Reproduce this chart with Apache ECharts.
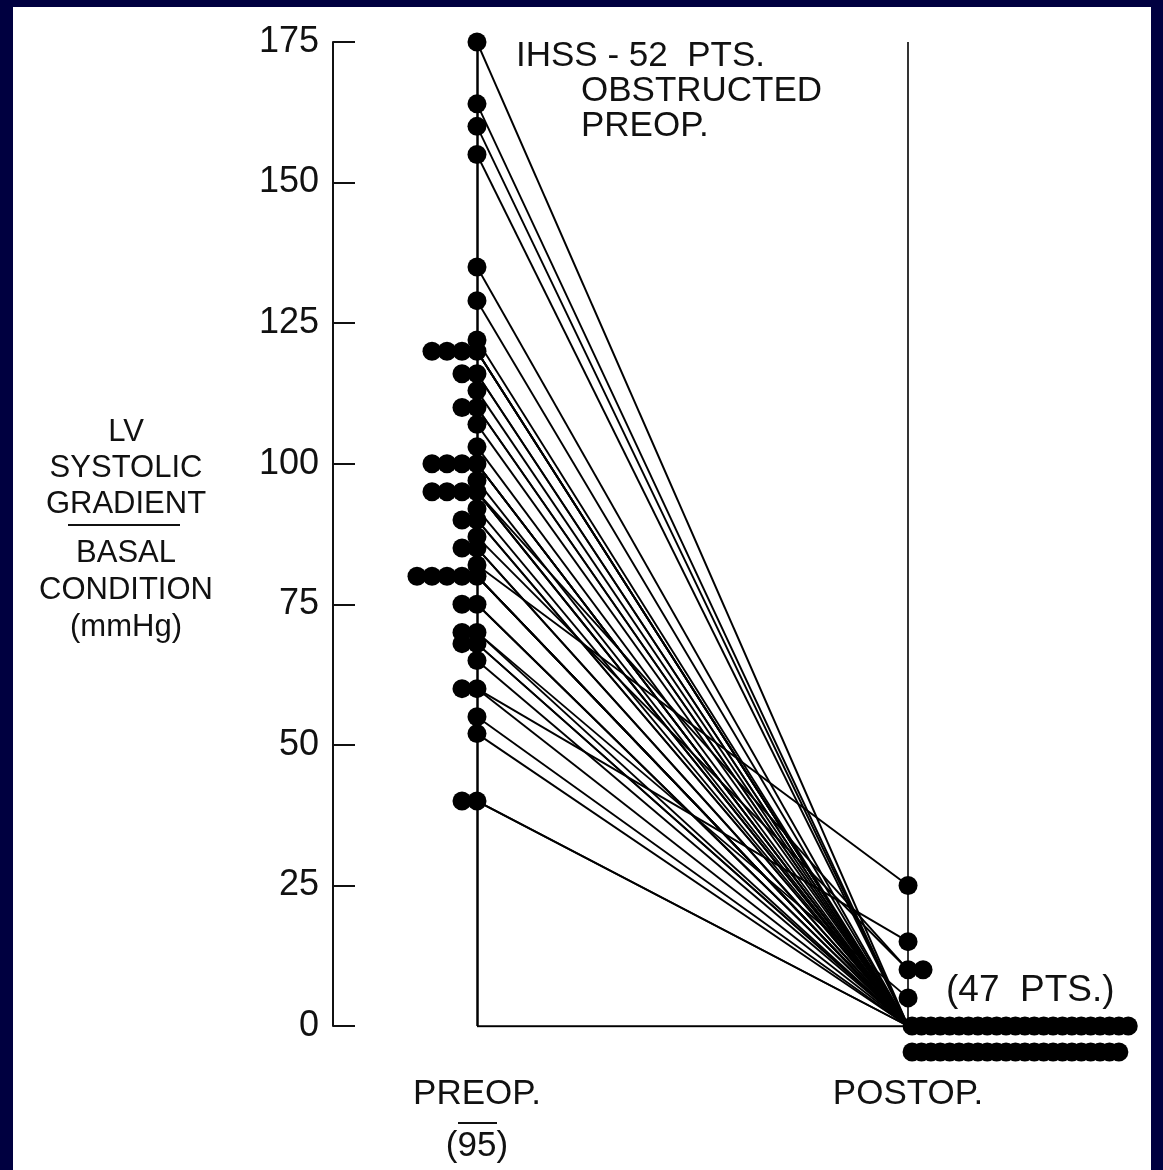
<!DOCTYPE html>
<html>
<head>
<meta charset="utf-8">
<script src="https://cdn.jsdelivr.net/npm/echarts@6/dist/echarts.min.js"></script>
<style>
  html, body { margin: 0; padding: 0; background: #000040; width: 1163px; height: 1170px; overflow: hidden; }
  #paper { position: absolute; left: 13px; top: 7px; width: 1138px; height: 1163px; background: #ffffff; }
  #chart { position: absolute; left: 0; top: 0; width: 1163px; height: 1170px; }
</style>
</head>
<body>
<div id="paper"></div>
<div id="chart"></div>
<script>
// ---- data ----
const groups = ['PREOP.', 'POSTOP.'];
const preopMean = '95';
const yTicks = [0, 25, 50, 75, 100, 125, 150, 175];
// preoperative LV systolic gradient (mmHg), one value per patient
const preop = [175, 164, 160, 155, 135, 129, 122, 120, 120, 120, 120, 116, 116, 113, 110, 110,
               107, 103, 100, 100, 100, 100, 97, 95, 95, 95, 95, 92, 90, 90, 87, 85, 85, 82,
               80, 80, 80, 80, 80, 75, 75, 70, 70, 68, 68, 65, 60, 60, 55, 52, 40, 40];
// postoperative gradient for the same patients (same order)
const postop = [0, 0, 0, 0, 0, 0, 0, 0, 0, 0, 0, 0, 0, 0, 0, 0,
                0, 0, 0, 0, 0, 0, 0, 10, 0, 0, 0, 0, 0, 0, 10, 0, 0, 25,
                0, 0, 0, 0, 0, 0, 0, 5, 0, 0, 0, 0, 15, 0, 0, 0, 0, 0];

// ---- styling constants ----
const PRE_X = 0, POST_X = 1;
const DOT = 19;           // symbol size (px)
const STACK_STEP = 15;    // px between tied dots
const ZERO_STEP = 9.4;    // px between dots of the postop zero cluster
const ZERO_ROW = 26;      // px between the two rows of the zero cluster
const ZERO_PER_ROW = 24;
const FONT = '"Liberation Sans", Arial, sans-serif';
const INK = '#111111';

// dots, tied values are drawn side by side (offset is only a display style)
function stackDots(xVal, values, dir) {
  const seen = {};
  const out = [];
  values.forEach(v => {
    const k = seen[v] || 0;
    seen[v] = k + 1;
    out.push({ value: [xVal, v], symbolOffset: [dir * k * STACK_STEP, 0] });
  });
  return out;
}
const preDots = stackDots(PRE_X, preop, -1);
const postNonZero = postop.filter(v => v !== 0);
const postZero = postop.filter(v => v === 0);
const postDots = stackDots(POST_X, postNonZero, 1);
postZero.forEach((v, i) => {
  const row = i < ZERO_PER_ROW ? 0 : 1;
  const col = row === 0 ? i : i - ZERO_PER_ROW;
  postDots.push({ value: [POST_X, v], symbolOffset: [4 + col * ZERO_STEP, row * ZERO_ROW] });
});

const links = preop.map((v, i) => ({ coords: [[PRE_X, v], [POST_X, postop[i]]] }));
const yMax = yTicks[yTicks.length - 1];

const chart = echarts.init(document.getElementById('chart'), null, { renderer: 'canvas' });
chart.setOption({
  backgroundColor: 'transparent',
  animation: false,
  grid: { left: 333, right: 20, top: 42, bottom: 144, containLabel: false, outerBoundsMode: 'none' },
  xAxis: {
    type: 'value', min: -0.334, max: 1.545,
    axisLine: { show: false }, axisTick: { show: false }, splitLine: { show: false },
    axisLabel: {
      customValues: [PRE_X, POST_X],
      margin: 42,
      fontSize: 35, lineHeight: 52, fontFamily: FONT, color: INK,
      formatter: v => v === PRE_X ? groups[0] + '\n(' + preopMean + ')' : groups[1]
    }
  },
  yAxis: {
    type: 'value', min: yTicks[0], max: yMax, interval: 25,
    axisLine: { show: true, onZero: false, lineStyle: { color: INK, width: 2 } },
    axisTick: { show: true, inside: true, length: 22, lineStyle: { color: INK, width: 2 } },
    splitLine: { show: false },
    axisLabel: { fontSize: 36, fontFamily: FONT, color: INK, margin: 14 }
  },
  graphic: [
    { type: 'text', left: 516, top: 39, style: { text: 'IHSS - 52  PTS.', font: '35px ' + FONT, fill: INK } },
    { type: 'text', left: 581, top: 74, style: { text: 'OBSTRUCTED\nPREOP.', font: '35px ' + FONT, lineHeight: 35, fill: INK } },
    { type: 'text', x: 126, y: 414, style: { text: 'LV\nSYSTOLIC\nGRADIENT', font: '31px ' + FONT, lineHeight: 36, fill: INK, align: 'center', verticalAlign: 'top' } },
    { type: 'line', shape: { x1: 68, y1: 525, x2: 180, y2: 525 }, style: { stroke: INK, lineWidth: 2 } },
    { type: 'text', x: 126, y: 535, style: { text: 'BASAL\nCONDITION\n(mmHg)', font: '31px ' + FONT, lineHeight: 37, fill: INK, align: 'center', verticalAlign: 'top' } },
    { type: 'text', left: 946, top: 972, style: { text: '(47  PTS.)', font: '37px ' + FONT, fill: INK } },
    { type: 'line', shape: { x1: 458, y1: 1123, x2: 497, y2: 1123 }, style: { stroke: INK, lineWidth: 2 } }
  ],
  series: [
    {
      type: 'lines', coordinateSystem: 'cartesian2d', silent: true, z: 2,
      lineStyle: { color: '#000', width: 2.5, opacity: 1 },
      data: [{ coords: [[PRE_X, 0], [PRE_X, yMax]] }, { coords: [[PRE_X, 0], [POST_X, 0]] }]
    },
    {
      type: 'lines', coordinateSystem: 'cartesian2d', silent: true, z: 2,
      lineStyle: { color: '#000', width: 1.6, opacity: 1 },
      data: [{ coords: [[POST_X, 0], [POST_X, yMax]] }]
    },
    {
      type: 'lines', coordinateSystem: 'cartesian2d', silent: true, z: 3,
      lineStyle: { color: '#000', width: 1.9, opacity: 1 },
      data: links
    },
    {
      type: 'scatter', clip: false, z: 4, symbol: 'circle', symbolSize: DOT,
      itemStyle: { color: '#000', opacity: 1 },
      data: preDots.concat(postDots)
    }
  ]
});
</script>
</body>
</html>
